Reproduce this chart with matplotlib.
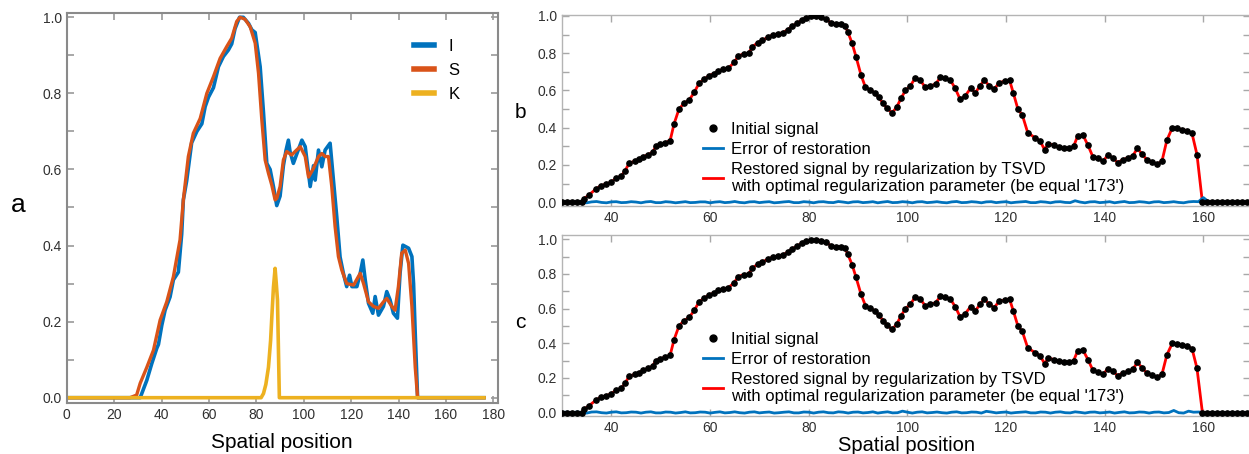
import matplotlib
matplotlib.use('Agg')
import numpy as np
import matplotlib.pyplot as plt
import matplotlib.ticker as ticker
from matplotlib import font_manager as fm
from matplotlib.lines import Line2D

# ---------------- data, panel a ----------------
i_x = [0, 31.0, 33.8, 35.9, 38.0, 38.7, 40.1, 41.5, 43.6, 45.0, 47.1, 48.5, 49.2, 50.6, 52.7,
       54.9, 57.0, 58.4, 59.8, 61.9, 64.0, 66.1, 68.2, 69.6, 71.0, 72.9, 74.5, 76.7, 78.1,
       79.5, 81.6, 83.0, 84.4, 85.8, 87.2, 88.6, 90.0, 91.4, 92.5, 93.5, 94.2, 95.6, 97.0,
       99.2, 100.6, 102.0, 102.7, 104.1, 104.8, 106.2, 107.6, 109.0, 111.1, 112.5, 113.9,
       115.3, 116.7, 118.1, 119.3, 120.3, 122.4, 123.8, 124.9, 125.9, 127.3, 129.1, 130.1,
       131.5, 133.6, 135.0, 136.4, 137.8, 139.5, 140.6, 141.8, 144.2, 145.6, 146.3, 147.0,
       148.0, 176]
i_y = [0, 0, 0.046, 0.09, 0.13, 0.14, 0.19, 0.23, 0.265, 0.31, 0.33, 0.43, 0.52, 0.57, 0.67,
       0.70, 0.72, 0.765, 0.79, 0.815, 0.87, 0.897, 0.914, 0.93, 0.97, 1.0, 1.0, 0.984, 0.967,
       0.96, 0.87, 0.75, 0.616, 0.60, 0.555, 0.505, 0.53, 0.61, 0.65, 0.677, 0.647, 0.616, 0.64,
       0.677, 0.66, 0.59, 0.555, 0.61, 0.572, 0.651, 0.607, 0.651, 0.669, 0.572, 0.476,
       0.37, 0.327, 0.292, 0.322, 0.292, 0.292, 0.327, 0.362, 0.31, 0.248, 0.222, 0.266,
       0.217, 0.24, 0.279, 0.257, 0.222, 0.209, 0.327, 0.401, 0.393, 0.371, 0.30, 0.17,
       0.0, 0.0]

s_x = [0, 26.7, 29.5, 31.0, 33.8, 36.6, 39.4, 42.2, 45.0, 47.8, 49.2, 51.3, 53.4, 56.3, 59.1,
       61.9, 64.7, 67.5, 69.6, 71.7, 73.1, 75.2, 77.4, 79.5, 80.9, 82.3, 83.7, 85.1, 86.5,
       87.9, 88.6, 90.0, 91.4, 92.8, 94.9, 96.3, 98.5, 100.6, 102.0, 104.1, 106.2, 107.6,
       109.0, 110.4, 111.8, 113.2, 114.6, 116.0, 118.1, 121.0, 123.8, 125.2, 127.3, 129.4,
       131.5, 133.6, 135.0, 137.1, 138.5, 139.9, 141.3, 142.8, 144.2, 145.6, 147.0, 148.0, 176]
s_y = [0, 0, 0.007, 0.038, 0.08, 0.125, 0.204, 0.252, 0.318, 0.415, 0.52, 0.634, 0.695, 0.734,
       0.80, 0.844, 0.892, 0.923, 0.945, 0.989, 1.0, 0.995, 0.975, 0.932, 0.853, 0.73, 0.625,
       0.59, 0.559, 0.52, 0.524, 0.555, 0.625, 0.647, 0.638, 0.647, 0.66, 0.634, 0.58, 0.603,
       0.634, 0.642, 0.634, 0.634, 0.555, 0.45, 0.371, 0.336, 0.30, 0.296, 0.327, 0.30, 0.252,
       0.24, 0.235, 0.252, 0.261, 0.24, 0.23, 0.292, 0.38, 0.388, 0.353, 0.24, 0.08, 0.0, 0.0]

k_x = [0, 82.0, 83.0, 84.0, 85.1, 86.0, 86.5, 87.2, 87.9, 88.4, 88.9, 89.7, 176]
k_y = [0, 0, 0.011, 0.035, 0.08, 0.15, 0.21, 0.29, 0.34, 0.30, 0.257, 0.0, 0.0]

# ---------------- data, panels b and c ----------------
sig_x = [30, 31, 32, 33, 34,
         34.5, 35.5, 36.8, 37.8, 38.9, 39.9, 41.0, 42.0, 42.8, 43.6, 44.7, 45.6, 46.5, 47.5,
         48.4, 49.0, 49.9, 50.9, 51.9, 52.7, 53.7, 54.7, 55.8, 56.8, 57.8, 58.8, 59.8, 60.8,
         61.7, 62.7, 63.7, 64.9, 65.7, 66.8, 67.8, 68.6, 69.7, 70.6, 71.7, 72.7, 73.7, 74.7,
         75.7, 76.7, 77.6, 78.6, 79.5, 80.4, 81.5, 82.5, 83.5, 84.5, 85.5, 86.5, 87.3, 87.9,
         88.8, 89.6, 90.6, 91.5, 92.5, 93.5, 94.2, 95.1, 95.9, 96.9, 97.8, 98.7, 99.6, 100.6,
         101.6, 102.6, 103.6, 104.6, 105.7, 106.7, 107.7, 108.7, 109.7, 110.7, 111.7, 112.8,
         113.8, 114.7, 115.6, 116.6, 117.6, 118.6, 119.7, 120.7, 121.5, 122.4, 123.3, 124.4,
         125.9, 126.9, 127.8, 128.6, 129.7, 130.7, 131.7, 132.7, 133.7, 134.5, 135.6, 136.6,
         137.6, 138.6, 139.7, 140.6, 141.7, 142.6, 143.7, 144.7, 145.7, 146.6, 147.6, 148.6,
         149.6, 150.6, 151.6, 152.6, 153.7, 154.7, 155.7, 156.7, 157.7, 158.7, 159.8,
         160.8, 161.8, 162.8, 163.8, 164.8, 165.8, 166.8, 167.8, 168.8, 169.8]
sig_y = [0, 0, 0, 0, 0,
         0.02, 0.04, 0.07, 0.088, 0.097, 0.107, 0.13, 0.14, 0.17, 0.21, 0.22, 0.23, 0.245, 0.256,
         0.27, 0.30, 0.31, 0.32, 0.33, 0.42, 0.50, 0.53, 0.55, 0.59, 0.64, 0.66, 0.68, 0.69,
         0.705, 0.713, 0.72, 0.75, 0.785, 0.796, 0.80, 0.835, 0.857, 0.87, 0.885, 0.898, 0.903, 0.91,
         0.925, 0.946, 0.96, 0.978, 0.99, 0.997, 0.997, 0.993, 0.982, 0.964, 0.957, 0.955, 0.948, 0.916,
         0.853, 0.78, 0.683, 0.617, 0.602, 0.585, 0.563, 0.53, 0.504, 0.48, 0.509, 0.557, 0.60, 0.624,
         0.668, 0.656, 0.617, 0.624, 0.634, 0.67, 0.665, 0.656, 0.611, 0.552, 0.57, 0.611,
         0.588, 0.624, 0.656, 0.624, 0.606, 0.642, 0.65, 0.656, 0.584, 0.50, 0.468, 0.373,
         0.346, 0.328, 0.283, 0.315, 0.306, 0.297, 0.292, 0.289, 0.30, 0.355, 0.36, 0.306,
         0.244, 0.235, 0.22, 0.253, 0.238, 0.213, 0.229, 0.238, 0.249, 0.289, 0.258, 0.226,
         0.217, 0.204, 0.22, 0.333, 0.40, 0.396, 0.39, 0.384, 0.369, 0.256, 0.0,
         0, 0, 0, 0, 0, 0, 0, 0, 0, 0]

err_x = list(range(30, 171))
err_b = [0.001, 0.002, -0.002, 0.003, 0.000, -0.003, 0.002, 0.004, -0.001, -0.003,
         0.002, 0.003, -0.002, -0.001, 0.003, 0.001, -0.003, 0.002, 0.004, -0.002,
         -0.002, 0.003, 0.001, -0.003, 0.000, 0.003, -0.002, -0.001, 0.002, 0.002,
         -0.003, 0.001, 0.003, -0.002, 0.000, 0.004, -0.001, -0.003, 0.002, 0.003,
         -0.002, 0.001, 0.003, -0.003, -0.001, 0.002, 0.004, -0.002, -0.002, 0.003,
         0.001, -0.003, 0.002, 0.003, -0.001, -0.002, 0.004, 0.001, -0.003, 0.002,
         0.003, -0.002, 0.000, 0.003, -0.003, 0.001, 0.004, -0.002, -0.001, 0.003,
         0.001, -0.003, 0.002, 0.003, -0.002, 0.000, 0.003, -0.001, -0.003, 0.002,
         0.004, -0.002, -0.001, 0.003, 0.001, -0.003, 0.002, 0.003, -0.002, 0.001,
         0.003, -0.003, 0.000, 0.002, 0.004, -0.002, -0.002, 0.003, 0.001, -0.003,
         0.002, 0.003, -0.001, -0.002, 0.008, 0.001, -0.003, 0.002, 0.003, -0.002,
         0.000, 0.003, -0.003, 0.001, 0.004, -0.002, -0.001, 0.003, 0.001, -0.003,
         0.002, 0.003, -0.002, 0.000, 0.003, -0.001, -0.003, 0.002, 0.004, 0.003,
         0.025, 0.004, 0.001, 0.002, 0.001, 0.002, 0.001, 0.002, 0.001, 0.002, 0.001]
err_c = [0.001, 0.002, -0.002, 0.003, 0.000, -0.003, 0.003, 0.004, -0.001, -0.003,
         0.002, 0.004, -0.002, -0.001, 0.003, 0.002, -0.003, 0.002, 0.004, -0.002,
         -0.002, 0.003, 0.002, -0.003, 0.000, 0.004, -0.002, -0.001, 0.003, 0.002,
         -0.003, 0.001, 0.004, -0.002, 0.000, 0.004, -0.001, -0.003, 0.002, 0.004,
         -0.002, 0.001, 0.003, -0.003, -0.001, 0.002, 0.004, -0.002, -0.002, 0.003,
         0.002, -0.003, 0.002, 0.004, -0.001, -0.002, 0.004, 0.002, -0.003, 0.002,
         0.003, -0.002, 0.000, 0.004, -0.003, 0.001, 0.004, -0.002, -0.001, 0.008,
         0.002, -0.003, 0.002, 0.004, -0.002, 0.000, 0.003, -0.001, -0.003, 0.002,
         0.004, -0.002, -0.001, 0.003, 0.002, -0.003, 0.007, 0.003, -0.002, 0.001,
         0.003, -0.003, 0.000, 0.002, 0.004, -0.002, -0.002, 0.003, 0.002, -0.003,
         0.002, 0.004, -0.001, -0.002, 0.004, 0.001, -0.003, 0.002, 0.003, -0.002,
         0.000, 0.003, -0.003, 0.001, 0.004, -0.002, -0.001, 0.003, 0.002, -0.003,
         0.002, 0.003, -0.002, 0.000, 0.012, -0.001, -0.003, 0.008, 0.002, 0.003,
         0.001, 0.000, 0.001, 0.000, 0.001, 0.000, 0.001, 0.000, 0.001, 0.000, 0.001]

restored_label = ("Restored signal by regularization by TSVD\n"
                  "with optimal regularization parameter (be equal '173')")

# ---------------- fonts ----------------
font_names = {f.name for f in fm.fontManager.ttflist}
regular = 'Liberation Sans' if 'Liberation Sans' in font_names else 'DejaVu Sans'
narrow = 'Liberation Sans Narrow' if 'Liberation Sans Narrow' in font_names else regular
plt.rcParams['font.family'] = [regular, 'DejaVu Sans']

c_blue = '#0072BD'
c_orange = '#D95319'
c_yellow = '#EDB120'

fig = plt.figure(figsize=(12.49, 4.54), dpi=100)

# ---------------- panel a ----------------
ax = fig.add_axes([0.0534, 0.1117, 0.3451, 0.859])
ax.plot(i_x, i_y, color=c_blue, lw=2.6, label='I', solid_joinstyle='round')
ax.plot(s_x, s_y, color=c_orange, lw=2.4, label='S', solid_joinstyle='round')
ax.plot(k_x, k_y, color=c_yellow, lw=2.6, label='K', solid_joinstyle='round')
ax.set_xlim(0, 181.8)
ax.set_ylim(-0.0147, 1.0105)
ax.xaxis.set_major_locator(ticker.MultipleLocator(20))
ax.yaxis.set_major_locator(ticker.MultipleLocator(0.2))
ax.yaxis.set_minor_locator(ticker.MultipleLocator(0.1))
ax.yaxis.set_major_formatter(ticker.FormatStrFormatter('%.1f'))
ax.tick_params(which='both', direction='in', top=True, right=True, length=5,
               width=1.2, color='#9a9a9a', labelsize=10, labelcolor='#303030')
for sp in ax.spines.values():
    sp.set_color('#8a8a8a')
    sp.set_linewidth(1.5)
ax.set_xlabel('Spatial position', fontsize=15, labelpad=8)
leg = ax.legend(loc='upper left', bbox_to_anchor=(0.805, 0.935), frameon=False,
                fontsize=12, handlelength=1.2, handletextpad=0.9, labelspacing=0.55,
                borderaxespad=0, borderpad=0)
for h in leg.get_lines():
    h.set_linewidth(4)
fig.text(18 / 1249, 1 - 205 / 454, 'a', fontsize=19, ha='center', va='center')

# ---------------- panels b and c ----------------
def signal_panel(rect, err, letter, letter_y, ylim, legend_y, xlabel=False):
    ax = fig.add_axes(rect)
    ax.plot(sig_x, sig_y, color='#ff0000', lw=2.0, zorder=2)
    ax.plot(err_x, err, color=c_blue, lw=2.0, zorder=3)
    ax.plot(sig_x, sig_y, 'o', color='black', ms=3.8, zorder=4)
    ax.set_xlim(30, 169.5)
    ax.set_ylim(*ylim)
    ax.xaxis.set_major_locator(ticker.MultipleLocator(20))
    ax.yaxis.set_major_locator(ticker.MultipleLocator(0.2))
    ax.yaxis.set_minor_locator(ticker.MultipleLocator(0.1))
    ax.yaxis.set_major_formatter(ticker.FormatStrFormatter('%.1f'))
    ax.tick_params(which='both', direction='in', top=True, right=True, length=5,
                   width=1.0, color='#a8a8a8', labelsize=10, labelcolor='#303030')
    for lab in ax.get_xticklabels() + ax.get_yticklabels():
        lab.set_family(narrow)
    for sp in ax.spines.values():
        sp.set_color('#b4b4b4')
        sp.set_linewidth(1.0)
    handles = [
        Line2D([], [], marker='o', ls='none', color='black', ms=5),
        Line2D([], [], color=c_blue, lw=2),
        Line2D([], [], color='#ff0000', lw=2),
    ]
    labels = ['Initial signal', 'Error of restoration', restored_label]
    ax.legend(handles, labels, loc='upper left', bbox_to_anchor=(0.205, legend_y),
              frameon=False, prop={'family': narrow, 'size': 12}, handlelength=1.2,
              handletextpad=0.5, labelspacing=0.3, borderaxespad=0, borderpad=0)
    if xlabel:
        ax.set_xlabel('Spatial position', fontsize=14.5, labelpad=1)
    fig.text(520 / 1249, 1 - letter_y / 454, letter, fontsize=15, ha='center', va='center')
    return ax


signal_panel([0.45, 0.5463, 0.551, 0.4207], err_b, 'b', 112, (-0.02, 1.005), 0.44)
signal_panel([0.45, 0.0837, 0.551, 0.3987], err_c, 'c', 323, (-0.02, 1.025), 0.465, xlabel=True)

fig.savefig('out.png', dpi=100)
